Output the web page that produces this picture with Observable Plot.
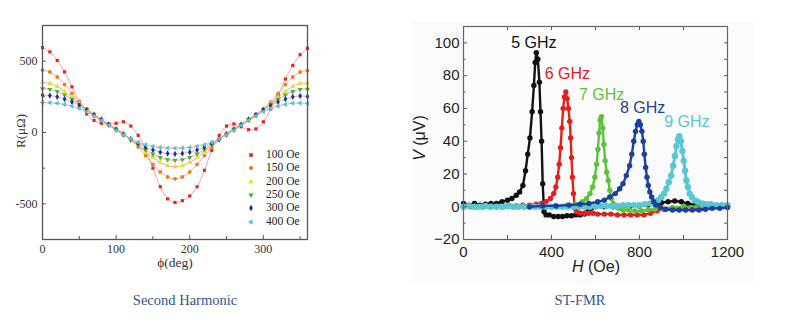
<!DOCTYPE html>
<html><head><meta charset="utf-8">
<script src="https://cdn.jsdelivr.net/npm/d3@7"></script>
<script src="https://cdn.jsdelivr.net/npm/@observablehq/plot@0.6"></script>
<style>
body{margin:0;background:#fff;}
#page{position:relative;width:796px;height:321px;overflow:hidden;background:#fff;}
.abs{position:absolute;white-space:nowrap;line-height:1;}
.serif{font-family:"Liberation Serif","Times New Roman",serif;}
.sans{font-family:"Liberation Sans",Arial,sans-serif;}
</style></head><body><div id="page"></div>
<script>
// ---------- Left panel: Second Harmonic ----------
const phi = [0,10,20,30,40,50,60,70,80,90,100,110,120,130,140,150,160,170,180,190,200,210,220,230,240,250,260,270,280,290,300,310,320,330,340,350,360];
const r100 = [595,565,505,425,320,215,130,85,65,60,65,75,45,-20,-120,-250,-380,-465,-490,-478,-445,-380,-265,-125,-20,45,60,40,20,25,75,165,260,375,470,545,590];
const r150 = [437,424,389,336,274,213,160,116,83,56,29,-4,-48,-101,-162,-224,-277,-312,-325,-312,-277,-224,-162,-101,-48,-4,29,56,83,116,160,213,274,336,389,424,434];
const r200 = [352,344,322,288,247,204,162,124,89,56,24,-12,-50,-92,-135,-176,-210,-232,-240,-232,-210,-176,-135,-92,-50,-12,24,56,89,124,162,204,247,288,322,344,345];
const r250 = [307,302,287,263,233,199,164,127,92,56,21,-15,-52,-87,-121,-151,-175,-190,-195,-190,-175,-151,-121,-87,-52,-15,21,56,92,127,164,199,233,263,287,302,303];
const r300 = [262,259,250,234,214,188,159,126,92,56,20,-15,-47,-76,-102,-122,-138,-147,-150,-147,-138,-122,-102,-76,-47,-15,20,56,92,126,159,188,214,234,250,256,252];
const r400 = [210,209,205,197,185,168,145,117,85,50,16,-17,-45,-68,-85,-97,-105,-109,-110,-109,-105,-97,-85,-68,-45,-17,16,50,85,117,145,168,185,197,205,206,204];
const fieldLabels = ["100 Oe","150 Oe","200 Oe","250 Oe","300 Oe","400 Oe"];
const fieldSeries = [r100,r150,r200,r250,r300,r400];
const fieldColors = ["#e5251d","#f07a1e","#ecdf22","#48b13c","#1b2f9c","#52c3d6"];
const fieldSymbols = ["square","circle","triangle","triangle","diamond","triangle"];
const fieldRotate = [0,0,0,180,0,-90];
const phiTicks = [0,100,200,300];
const phiMinor = [50,150,250,350];
const rTicks = [-500,0,500];
const rMinor = [-250,250];

// ---------- Right panel: ST-FMR ----------
const ghz5 = [[0,2],[25,1],[50,2],[75,1],[100,1.5],[125,2],[150,2],[175,3],[200,4],[220,5],[240,7],[255,9],[270,13],[282,22],[292,32],[302,42],[312,58],[320,74],[326,88],[331,94],[338,90],[345,76],[350,58],[355,40],[360,14],[366,-3],[375,-5],[390,-5],[410,-6],[430,-6],[450,-6],[470,-5.5],[490,-5.5],[510,-5],[530,-5],[550,-4.5],[565,-3],[580,-1],[600,0],[640,0],[680,0],[720,0],[760,0.5],[800,0.5],[840,1],[870,1.5],[900,2.5],[930,3],[960,3.5],[990,3],[1020,2],[1050,1],[1090,0],[1140,0],[1200,0]];
const ghz6 = [[0,0],[30,0],[60,0],[90,0],[120,0],[150,0],[180,0],[210,0.5],[240,0.5],[270,1],[300,1],[330,1.5],[355,2],[375,3],[395,5],[410,8],[420,12],[428,18],[435,26],[441,36],[447,48],[453,60],[459,67],[465,70],[471,66],[477,60],[483,52],[487,42],[491,30],[495,18],[500,8],[506,-1],[515,-3],[530,-4],[550,-4],[570,-4],[590,-4],[610,-4.5],[640,-4.5],[670,-4.5],[700,-5],[730,-5],[760,-5],[790,-5],[820,-5],[850,-4],[880,-2.5],[910,-1.5],[950,-1],[1000,-0.5],[1060,0],[1130,0],[1200,0]];
const ghz7 = [[0,0],[60,0],[120,0],[180,0],[240,0],[300,0],[360,0],[420,0.5],[470,1],[510,1.5],[540,3],[560,5],[575,8],[587,12],[597,18],[605,26],[611,35],[616,45],[621,53],[627,55],[633,48],[638,38],[644,28],[651,21],[658,16],[665,10],[672,5],[680,2],[690,0],[705,-1],[725,-2],[750,-2],[780,-2.5],[810,-2.5],[840,-2],[870,-1.5],[900,-1],[950,-0.5],[1000,0],[1100,0],[1200,0]];
const ghz8 = [[300,0],[360,0.5],[420,0.5],[480,1],[530,1.5],[570,2],[610,3],[640,4],[665,6],[690,8],[710,11],[725,14],[740,19],[755,25],[765,32],[774,40],[782,46],[790,50],[797,52],[804,50],[811,46],[817,40],[822,32],[828,24],[834,18],[840,13],[847,9],[855,6],[865,3],[878,1],[895,-0.5],[920,-1.5],[950,-2],[980,-2],[1010,-2],[1040,-2],[1070,-2],[1100,-1.5],[1130,-1],[1165,-1],[1200,-0.5]];
const ghz9 = [[0,0],[25,0.5],[50,0],[75,0],[100,0.5],[125,0],[150,0],[175,0],[200,0.5],[225,0],[250,0],[275,0],[300,0],[325,0],[350,0],[375,0],[400,0],[425,0],[450,0],[475,0],[500,0],[525,0],[550,0],[575,0],[600,0.5],[625,0.5],[650,0.5],[675,0.5],[700,0.5],[725,1],[750,1],[775,1],[800,1],[825,1.5],[850,2],[870,3],[885,4],[899,6],[912,8],[922,11],[933,15],[944,19],[953,25],[961,31],[968,37],[975,41],[981,43],[988,40],[995,34],[1001,28],[1007,22],[1013,16],[1020,12],[1028,8],[1038,6],[1050,4],[1065,3],[1085,2],[1105,1.5],[1125,1.5],[1150,1],[1175,1],[1200,1]];
const freqLabels = ["5 GHz","6 GHz","7 GHz","8 GHz","9 GHz"];
const freqSeries = [ghz5,ghz6,ghz7,ghz9,ghz8];
const freqSeriesColors = ["#111111","#e3211c","#5cc23c","#5ac6d3","#1d3f9e"];
const freqColors = ["#111111","#e3211c","#5cc23c","#1d3f9e","#5ac6d3"];
const labelH = [320,472,628,814,1015];
const labelV = [100,81,68.5,60.5,52];
const hTicks = [0,400,800,1200];
const hMinor = [200,400,600,800,1000];
const vTicks = [-20,0,20,40,60,80,100];
const vMinor = [-10,10,30,50,70,90,110];
const vRight = [-10,0,10,20,30,40,50,60,70,80,90,100];

const page = document.getElementById("page");
function addDiv(html, css, cls){
  const d = document.createElement("div");
  d.className = "abs " + (cls||"");
  d.innerHTML = html;
  Object.assign(d.style, css);
  page.appendChild(d);
  return d;
}

// right panel faint background
addDiv("", {left:"411px", top:"22px", width:"343px", height:"262px", background:"#fbfbfb"});

// ---------- Left plot ----------
const LW = 330, LH = 275, LM = {top:25, right:23, bottom:36, left:42};
const LPW = LW - LM.left - LM.right, LPH = LH - LM.top - LM.bottom;
const leftMarks = [];
fieldSeries.forEach((s,k) => {
  const rows = phi.map((p,i) => ({phi:p, r:s[i]}));
  leftMarks.push(Plot.line(rows, {x:"phi", y:"r", stroke:"#f19a9a", strokeWidth:0.9, curve:"catmull-rom"}));
});
fieldSeries.forEach((s,k) => {
  const rows = phi.map((p,i) => ({phi:p, r:s[i]}));
  leftMarks.push(Plot.dot(rows, {x:"phi", y:"r", fill:fieldColors[k], symbol:fieldSymbols[k], rotate:fieldRotate[k], r: k===0 ? 1.8 : 1.9}));
});
const leftPlot = Plot.plot({
  width: LW, height: LH,
  marginTop: LM.top, marginRight: LM.right, marginBottom: LM.bottom, marginLeft: LM.left,
  style: {fontFamily:"'Liberation Serif','Times New Roman',serif", fontSize:"12px", color:"#333", background:"transparent", overflow:"visible"},
  x: {domain:[0,360], ticks:phiTicks, tickSize:0, tickPadding:5, label:null},
  y: {domain:[-750,750], ticks:rTicks, tickFormat:d=>String(d), tickSize:0, tickPadding:5, label:null},
  marks: [
    ...leftMarks,
    Plot.tickX(phiTicks, {x:d=>d, insetTop:LPH-4, stroke:"#555", strokeWidth:1}),
    Plot.tickX(phiMinor, {x:d=>d, insetTop:LPH-3, stroke:"#555", strokeWidth:1}),
    Plot.tickY(rTicks, {y:d=>d, insetRight:LPW-4, stroke:"#555", strokeWidth:1}),
    Plot.tickY(rMinor, {y:d=>d, insetRight:LPW-3, stroke:"#555", strokeWidth:1}),
    Plot.frame({stroke:"#555", strokeWidth:1.3})
  ]
});
const lw = document.createElement("div");
lw.style.cssText = "position:absolute;left:0;top:0";
lw.appendChild(leftPlot);
page.appendChild(lw);

// left axis labels
addDiv("R(μΩ)", {left:"20px", top:"131px", transform:"translate(-50%,-50%) rotate(-90deg)", fontSize:"13px", color:"#333"}, "serif");
addDiv("ϕ(deg)", {left:"175px", top:"263px", transform:"translate(-50%,-50%)", fontSize:"13.5px", color:"#333"}, "serif");

// left legend
const legTop = 155, legStep = 13.3;
fieldLabels.forEach((lab,k) => {
  const y = legTop + k*legStep;
  const typeMap = {square:d3.symbolSquare, circle:d3.symbolCircle, triangle:d3.symbolTriangle, diamond:d3.symbolDiamond};
  const path = d3.symbol().type(typeMap[fieldSymbols[k]]).size(Math.PI*2.0*2.0)();
  const svg = `<svg width="10" height="10" style="display:block"><path d="${path}" fill="${fieldColors[k]}" transform="translate(5,5) rotate(${fieldRotate[k]})"/></svg>`;
  addDiv(svg, {left:(251-5)+"px", top:(y-5)+"px"});
  addDiv(lab, {left:"266px", top:y+"px", transform:"translateY(-50%)", fontSize:"11.5px", color:"#222"}, "serif");
});

// ---------- Right plot ----------
const RW = 350, RH = 280, RM = {top:26, right:23, bottom:41, left:63};
const RPW = RW - RM.left - RM.right, RPH = RH - RM.top - RM.bottom;
const rightMarks = [];
freqSeries.forEach((s,k) => {
  const c = freqSeriesColors[k];
  const isCyan = s === ghz9;
  rightMarks.push(Plot.line(s, {x:d=>d[0], y:d=>d[1], stroke:c, strokeWidth:isCyan?3:2.4}));
  rightMarks.push(Plot.dot(s, {x:d=>d[0], y:d=>d[1], fill:c, r:isCyan?3.2:2.7}));
});
const labelRows = freqLabels.map((t,i) => ({t, h:labelH[i], v:labelV[i], c:freqColors[i]}));
const fmtV = d => d < 0 ? "\u2212" + (-d) : String(d);
const rightPlot = Plot.plot({
  width: RW, height: RH,
  marginTop: RM.top, marginRight: RM.right, marginBottom: RM.bottom, marginLeft: RM.left,
  style: {fontFamily:"'Liberation Sans',Arial,sans-serif", fontSize:"15px", color:"#222", background:"transparent", overflow:"visible"},
  x: {domain:[0,1200], ticks:hTicks, tickFormat:fmtV, tickSize:0, tickPadding:7, label:null},
  y: {domain:[-20,110], ticks:vTicks, tickFormat:fmtV, tickSize:0, tickPadding:4, label:null},
  marks: [
    ...rightMarks,
    Plot.text(labelRows, {x:"h", y:"v", text:"t", fill:d=>d.c, fontSize:16, textAnchor:"middle"}),
    Plot.tickX(hMinor, {x:d=>d, insetTop:RPH-4, stroke:"#555"}),
    Plot.tickX(hMinor, {x:d=>d, insetBottom:RPH-4, stroke:"#555"}),
    Plot.tickY(vTicks, {y:d=>d, insetRight:RPW-4, stroke:"#555"}),
    Plot.tickY(vMinor, {y:d=>d, insetRight:RPW-2.5, stroke:"#555"}),
    Plot.tickY(vRight, {y:d=>d, insetLeft:RPW-3, stroke:"#555"}),
    Plot.frame({stroke:"#666", strokeWidth:1.2})
  ]
});
const rw = document.createElement("div");
rw.style.cssText = "position:absolute;left:400px;top:0";
rw.appendChild(rightPlot);
page.appendChild(rw);

addDiv("<i>V</i> (μV)", {left:"420px", top:"138px", transform:"translate(-50%,-50%) rotate(-90deg)", fontSize:"16px", color:"#222"}, "sans");
addDiv("<i>H</i> (Oe)", {left:"596px", top:"267px", transform:"translate(-50%,-50%)", fontSize:"16px", color:"#222"}, "sans");

// captions
addDiv("Second Harmonic", {left:"185px", top:"300px", transform:"translate(-50%,-50%)", fontSize:"14.5px", color:"#2f5597"}, "serif");
addDiv("ST-FMR", {left:"580px", top:"300px", transform:"translate(-50%,-50%)", fontSize:"14.5px", color:"#2f5597"}, "serif");
</script>
</body></html>
